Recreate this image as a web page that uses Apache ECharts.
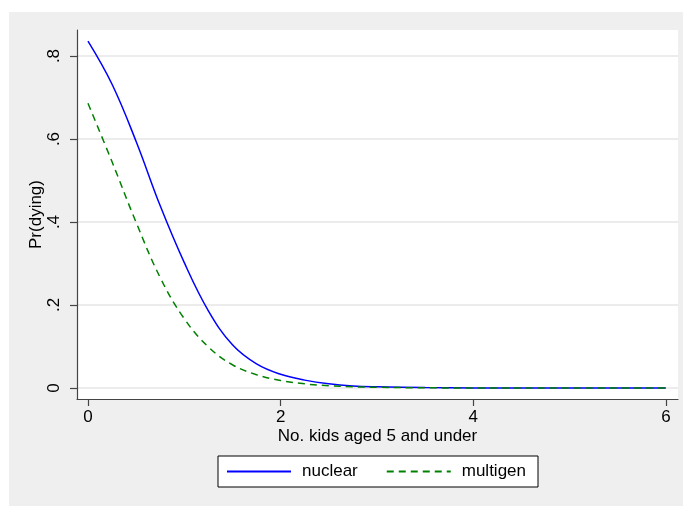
<!DOCTYPE html>
<html>
<head>
<meta charset="utf-8">
<script src="https://cdn.jsdelivr.net/npm/echarts@6/dist/echarts.min.js"></script>
<style>
  html, body { margin: 0; padding: 0; background: #fff; }
  #chart { width: 683px; height: 506px; }
</style>
</head>
<body>
<div id="chart"></div>
<script>
// kids aged 5 and under (x) and predicted Pr(dying) per family type
const kids     = [0, 0.25, 0.5, 0.75, 1, 1.25, 1.5, 1.75, 2, 2.25, 2.5, 2.75, 3, 3.5, 4, 5, 6];
const nuclear  = [0.836, 0.732, 0.594, 0.439, 0.302, 0.186, 0.104, 0.058, 0.033, 0.019, 0.01, 0.005, 0.003, 0.001, 0.0003, 0.0001, 0];
const multigen = [0.686, 0.545, 0.399, 0.266, 0.167, 0.099, 0.056, 0.032, 0.018, 0.01, 0.0055, 0.003, 0.0017, 0.0005, 0.0002, 0, 0];

const xTicks = [0, 2, 4, 6];
const yTicks = [0, 0.2, 0.4, 0.6, 0.8];
const yTickLabels = ['0', '.2', '.4', '.6', '.8'];

const font = 'Liberation Sans, Arial, sans-serif';

const chart = echarts.init(document.getElementById('chart'));

const option = {
  backgroundColor: '#fff',
  animation: false,
  textStyle: { fontFamily: font, color: '#000' },
  graphic: [{
    type: 'rect',
    z: -10,
    shape: { x: 9, y: 12, width: 683 - 9, height: 506 - 12 },
    style: { fill: '#efefef' }
  }, {
    type: 'rect',
    z: -9,
    shape: { x: 77, y: 30, width: 601, height: 369 },
    style: { fill: '#fff' }
  }],
  grid: { left: 77, top: 30, right: 5, bottom: 107, containLabel: false },
  xAxis: {
    type: 'value',
    min: -0.114,
    max: 6.126,
    name: 'No. kids aged 5 and under',
    nameLocation: 'middle',
    nameGap: 29,
    nameMoveOverlap: false,
    nameTextStyle: { fontSize: 17, fontFamily: font, color: '#000' },
    axisLine: { show: true, onZero: false, lineStyle: { color: '#444', width: 1.2 } },
    axisTick: { show: true, length: 7, customValues: xTicks, lineStyle: { color: '#444', width: 1.2 } },
    axisLabel: { customValues: xTicks, fontSize: 17, margin: 10, color: '#000', fontFamily: font },
    splitLine: { show: false }
  },
  yAxis: {
    type: 'value',
    min: -0.0265,
    max: 0.8627,
    name: 'Pr(dying)',
    nameLocation: 'middle',
    nameGap: 32,
    nameMoveOverlap: false,
    nameRotate: 90,
    nameTextStyle: { fontSize: 17, fontFamily: font, color: '#000' },
    axisLine: { show: true, onZero: false, lineStyle: { color: '#444', width: 1.2 } },
    axisTick: { show: true, length: 7, customValues: yTicks, lineStyle: { color: '#444', width: 1.2 } },
    axisLabel: {
      customValues: yTicks,
      rotate: 90,
      fontSize: 17,
      margin: 14,
      color: '#000',
      fontFamily: font,
      formatter: v => yTickLabels[yTicks.findIndex(t => Math.abs(t - v) < 1e-6)]
    },
    splitLine: { show: true, lineStyle: { color: '#e6e6e6', width: 1.5 } }
  },
  legend: {
    left: 218,
    top: 456,
    padding: [7, 12, 7, 8],
    itemGap: 28,
    itemWidth: 64,
    itemHeight: 14,
    backgroundColor: '#fff',
    borderColor: '#000',
    borderWidth: 1,
    borderRadius: 0,
    itemStyle: { opacity: 0 },
    textStyle: { fontSize: 17, fontFamily: font, color: '#000', padding: [0, 0, 0, 6] },
    data: ['nuclear', 'multigen']
  },
  series: [{
    name: 'nuclear',
    type: 'line',
    smooth: 0.4,
    showSymbol: false,
    symbol: 'none',
    data: kids.map((k, i) => [k, nuclear[i]]),
    lineStyle: { color: '#0000ff', width: 1.5 },
    itemStyle: { color: '#0000ff' }
  }, {
    name: 'multigen',
    type: 'line',
    smooth: 0.4,
    showSymbol: false,
    symbol: 'none',
    data: kids.map((k, i) => [k, multigen[i]]),
    lineStyle: { color: '#008000', width: 1.5, type: [7, 5] },
    itemStyle: { color: '#008000' }
  }]
};

chart.setOption(option);
</script>
</body>
</html>
